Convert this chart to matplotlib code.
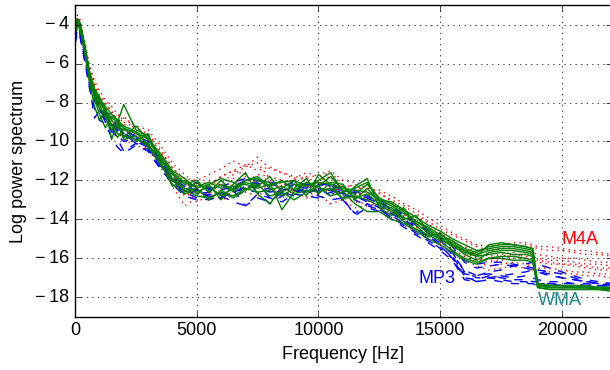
import numpy as np
import matplotlib
matplotlib.use("Agg")
import matplotlib.pyplot as plt
from matplotlib.ticker import FuncFormatter

# -----------------------------
# data
# -----------------------------
freq = [0, 100, 200, 400, 600, 800, 1000,
        1250, 1500, 1750, 2000, 2500, 3000,
        3500, 4000, 4500, 5000, 5500, 6000,
        6500, 7000, 7500, 8000, 8500, 9000,
        9500, 10000, 10500, 11000, 11500, 12000,
        12500, 13000, 13500, 14000, 14500, 15000,
        15500, 16000, 16500, 17000, 17500, 18000, 18500, 18800,
        19000, 19500, 20000, 20500, 21000, 21500, 22050]

# M4A (red dotted)
m4a_1 = [-4.2, -3.7, -3.8, -5.0, -6.2, -7.0, -7.6,
         -8.0, -8.5, -8.9, -9.0, -9.3, -9.6,
         -10.4, -11.4, -11.9, -12.0, -11.7, -11.4,
         -11.0, -11.3, -10.8, -11.4, -11.6, -11.9,
         -11.6, -11.8, -11.6, -12.2, -12.4, -12.3,
         -12.7, -13.0, -13.3, -13.7, -14.1, -14.5,
         -14.8, -15.1, -15.4, -15.6, -15.5, -15.4, -15.3, -15.4,
         -15.5, -15.6, -15.6, -15.7, -15.8, -15.8, -15.9]
m4a_2 = [-4.5, -3.9, -4.1, -5.3, -6.7, -7.5, -8.1,
         -8.6, -9.0, -9.4, -9.6, -9.9, -10.3,
         -11.1, -12.0, -12.8, -12.6, -13.0, -12.8,
         -12.6, -12.4, -12.1, -12.5, -12.4, -12.7,
         -12.8, -12.5, -12.4, -12.9, -13.1, -13.2,
         -13.3, -13.7, -14.1, -14.4, -14.8, -15.2,
         -15.5, -15.9, -16.2, -16.4, -16.3, -16.2, -16.3, -16.4,
         -16.5, -16.5, -16.6, -16.7, -16.7, -16.8, -16.8]
m4a_3 = [-4.3, -3.6, -3.8, -5.1, -6.5, -7.2, -7.8,
         -8.3, -8.7, -8.6, -9.1, -9.6, -9.7,
         -10.5, -11.3, -12.2, -12.5, -12.7, -12.1,
         -11.7, -11.3, -11.1, -11.9, -12.3, -11.9,
         -12.4, -12.0, -11.8, -12.4, -12.2, -12.7,
         -12.6, -13.1, -13.6, -13.8, -14.2, -14.7,
         -15.1, -15.5, -15.8, -16.0, -15.9, -15.8, -15.9, -16.0,
         -16.1, -16.2, -16.3, -16.3, -16.4, -16.5, -16.5]
m4a_4 = [-4.4, -3.8, -4.0, -5.2, -6.6, -7.4, -7.9,
         -8.7, -9.1, -9.3, -9.6, -9.9, -10.1,
         -11.0, -11.9, -12.5, -13.1, -12.8, -12.5,
         -12.2, -11.8, -12.3, -12.0, -12.6, -12.3,
         -12.1, -12.6, -12.3, -12.7, -12.6, -13.0,
         -13.4, -13.5, -13.8, -14.2, -14.7, -15.0,
         -15.3, -15.7, -16.0, -16.2, -16.1, -16.0, -16.0, -16.1,
         -16.2, -16.3, -16.3, -16.4, -16.5, -16.6, -16.6]
m4a_5 = [-4.1, -3.5, -3.7, -4.9, -6.1, -6.9, -7.4,
         -7.9, -8.2, -8.6, -8.8, -9.2, -9.4,
         -10.2, -11.1, -11.7, -12.2, -12.3, -11.8,
         -11.5, -11.2, -11.5, -11.3, -11.6, -11.8,
         -11.9, -11.7, -11.5, -12.0, -12.1, -12.4,
         -12.5, -12.8, -13.2, -13.5, -13.9, -14.3,
         -14.7, -15.0, -15.3, -15.4, -15.3, -15.2, -15.2, -15.3,
         -15.4, -15.4, -15.5, -15.6, -15.6, -15.7, -15.8]
m4a_6 = [-4.6, -4.0, -4.2, -5.5, -6.9, -7.7, -8.3,
         -8.8, -9.3, -9.5, -9.9, -10.2, -10.4,
         -11.3, -12.3, -13.3, -12.9, -12.6, -13.0,
         -12.8, -12.6, -12.8, -12.4, -12.9, -12.5,
         -12.9, -12.7, -13.2, -13.0, -13.4, -13.3,
         -13.6, -13.9, -14.3, -14.6, -15.0, -15.3,
         -15.7, -16.1, -16.4, -16.6, -16.5, -16.4, -16.5, -16.6,
         -16.6, -16.7, -16.8, -16.8, -16.9, -16.9, -17.0]
m4a_7 = [-4.2, -3.7, -3.9, -5.0, -6.4, -7.1, -7.7,
         -8.1, -8.4, -9.0, -8.7, -9.4, -9.8,
         -10.7, -11.6, -12.0, -12.4, -12.0, -12.3,
         -11.9, -12.1, -11.7, -11.8, -12.0, -12.1,
         -11.8, -12.2, -12.1, -12.5, -12.8, -12.5,
         -13.0, -13.3, -13.5, -14.0, -14.4, -14.8,
         -15.2, -15.4, -15.7, -15.9, -15.8, -15.7, -15.6, -15.7,
         -15.8, -15.9, -16.0, -16.0, -16.1, -16.2, -16.2]
m4a_8 = [-4.4, -3.8, -4.0, -5.3, -6.8, -7.5, -8.0,
         -8.4, -8.8, -9.1, -9.4, -9.7, -10.0,
         -10.8, -11.8, -12.6, -12.4, -12.2, -11.8,
         -11.5, -11.7, -12.2, -12.3, -12.1, -12.5,
         -12.3, -12.4, -12.6, -12.3, -12.9, -12.8,
         -13.2, -13.6, -14.0, -14.3, -14.5, -15.1,
         -15.4, -15.6, -15.9, -16.1, -16.0, -15.9, -15.8, -15.9,
         -16.0, -16.1, -16.1, -16.2, -16.3, -16.3, -16.4]

# MP3 (blue dashed)
mp3_1 = [-4.8, -4.2, -4.4, -5.6, -7.0, -7.7, -8.2,
         -8.6, -8.9, -9.4, -9.6, -9.9, -10.2,
         -11.2, -12.0, -12.4, -12.6, -12.8, -12.9,
         -12.6, -12.4, -12.3, -12.6, -12.5, -12.4,
         -12.6, -12.5, -12.4, -12.7, -12.9, -13.0,
         -13.3, -13.6, -14.0, -14.4, -14.9, -15.3,
         -16.0, -17.0, -17.1, -16.9, -17.0, -17.1, -17.1, -17.2,
         -17.2, -17.3, -17.3, -17.3, -17.4, -17.4, -17.4]
mp3_2 = [-4.5, -4.0, -4.3, -5.5, -6.8, -7.5, -8.0,
         -8.4, -8.8, -9.0, -9.3, -9.8, -10.1,
         -11.0, -11.8, -12.3, -12.5, -12.4, -12.3,
         -12.1, -11.9, -12.0, -12.2, -12.3, -12.1,
         -12.2, -12.3, -12.1, -12.5, -12.7, -12.8,
         -13.0, -13.3, -13.8, -14.1, -14.5, -14.9,
         -15.4, -16.2, -16.5, -16.4, -16.3, -16.4, -16.5, -16.6,
         -16.7, -16.9, -17.0, -17.1, -17.2, -17.3, -17.3]
mp3_3 = [-5.0, -4.4, -4.6, -5.9, -7.3, -8.3, -8.9,
         -9.1, -9.8, -10.3, -10.6, -10.2, -10.5,
         -11.4, -12.1, -12.6, -12.9, -13.0, -12.8,
         -13.1, -13.3, -12.7, -12.9, -13.1, -12.7,
         -12.8, -12.9, -12.6, -13.0, -13.7, -13.2,
         -13.5, -13.8, -14.2, -14.6, -15.0, -15.5,
         -16.0, -16.9, -17.2, -17.0, -17.1, -17.2, -17.2, -17.3,
         -17.3, -17.3, -17.4, -17.4, -17.4, -17.5, -17.5]
mp3_4 = [-4.6, -4.1, -4.2, -5.4, -6.9, -7.9, -8.3,
         -8.7, -9.1, -9.5, -9.7, -10.0, -10.3,
         -11.1, -11.9, -12.5, -12.7, -12.6, -12.7,
         -12.4, -12.2, -12.5, -12.4, -12.7, -12.6,
         -12.4, -12.6, -12.5, -12.8, -12.8, -13.1,
         -13.4, -13.7, -14.1, -14.5, -14.9, -15.2,
         -15.8, -16.6, -16.9, -16.8, -16.9, -17.0, -16.9, -17.0,
         -17.1, -17.2, -17.2, -17.3, -17.3, -17.4, -17.4]
mp3_5 = [-4.7, -4.1, -4.3, -5.5, -6.9, -7.6, -8.1,
         -8.5, -8.8, -9.2, -9.5, -9.7, -10.0,
         -10.9, -11.7, -12.2, -12.3, -12.4, -12.5,
         -12.3, -12.0, -12.2, -12.1, -12.2, -12.3,
         -12.4, -12.2, -12.2, -12.6, -12.6, -12.9,
         -13.1, -13.4, -13.8, -14.2, -14.6, -15.0,
         -15.6, -16.1, -16.3, -16.2, -16.2, -16.3, -16.4, -16.5,
         -16.7, -16.8, -17.0, -17.1, -17.2, -17.3, -17.3]
mp3_6 = [-4.9, -4.3, -4.5, -5.8, -7.2, -8.8, -8.4,
         -9.0, -9.3, -9.9, -10.5, -10.1, -10.4,
         -11.3, -12.2, -12.8, -13.0, -12.7, -12.9,
         -12.5, -13.3, -12.9, -13.1, -12.6, -12.8,
         -12.5, -12.8, -13.0, -12.9, -13.8, -13.4,
         -13.6, -14.0, -14.4, -14.8, -15.2, -15.6,
         -16.1, -17.1, -17.2, -17.1, -17.2, -17.3, -17.3, -17.3,
         -17.4, -17.4, -17.4, -17.5, -17.5, -17.5, -17.5]
mp3_7 = [-4.6, -4.0, -4.3, -5.4, -6.8, -7.6, -8.4,
         -8.8, -9.2, -9.0, -9.6, -10.1, -10.2,
         -11.0, -11.9, -12.3, -12.1, -12.5, -12.2,
         -12.6, -12.3, -12.1, -12.9, -12.4, -12.2,
         -12.3, -12.1, -12.3, -12.7, -12.5, -12.9,
         -13.2, -13.5, -13.9, -14.3, -14.7, -15.1,
         -15.7, -16.7, -17.0, -17.0, -16.9, -16.8, -16.7, -16.6,
         -16.6, -16.7, -16.8, -17.0, -17.2, -17.3, -17.4]
mp3_8 = [-4.8, -4.2, -4.4, -5.7, -7.1, -7.8, -8.3,
         -8.9, -9.5, -9.7, -10.0, -9.8, -10.3,
         -11.2, -12.0, -12.7, -12.5, -12.9, -12.6,
         -12.9, -12.5, -12.6, -13.2, -12.8, -12.5,
         -12.7, -12.4, -12.8, -12.6, -13.0, -13.3,
         -13.5, -13.9, -14.3, -14.7, -15.1, -15.4,
         -15.9, -16.8, -16.9, -16.7, -16.6, -16.4, -16.3, -16.2,
         -16.3, -16.5, -16.7, -16.9, -17.1, -17.2, -17.3]

# WMA (green solid)
wma_1 = [-4.3, -3.8, -4.0, -5.2, -6.6, -7.5, -8.0,
         -8.3, -9.9, -9.0, -8.1, -9.4, -9.7,
         -10.9, -11.7, -12.2, -12.0, -12.6, -12.2,
         -12.5, -12.1, -12.3, -11.8, -12.6, -12.2,
         -12.3, -12.0, -11.6, -12.6, -12.4, -12.1,
         -13.0, -13.1, -13.5, -13.9, -14.3, -14.6,
         -15.0, -15.3, -15.6, -15.5, -15.4, -15.4, -15.5, -15.6,
         -17.3, -17.4, -17.4, -17.4, -17.4, -17.5, -17.5]
wma_2 = [-4.4, -3.9, -4.1, -5.3, -6.8, -7.4, -7.9,
         -8.5, -8.9, -9.3, -9.4, -9.5, -10.2,
         -10.8, -11.9, -12.4, -12.6, -12.3, -12.8,
         -12.4, -12.0, -11.8, -12.3, -12.0, -12.5,
         -12.1, -12.4, -12.5, -12.3, -12.9, -12.7,
         -13.2, -13.4, -13.9, -14.2, -14.7, -15.0,
         -15.4, -15.7, -15.9, -15.8, -15.7, -15.8, -15.8, -15.9,
         -17.4, -17.5, -17.5, -17.5, -17.5, -17.5, -17.6]
wma_3 = [-4.2, -3.7, -3.9, -5.0, -6.4, -7.3, -7.8,
         -8.2, -8.6, -8.9, -9.2, -9.5, -9.9,
         -10.6, -11.5, -11.9, -12.4, -12.2, -11.9,
         -12.1, -12.5, -12.0, -12.1, -13.5, -12.6,
         -12.1, -12.3, -11.8, -12.5, -12.7, -12.2,
         -12.9, -13.2, -13.6, -14.1, -14.5, -14.9,
         -15.2, -15.6, -15.8, -15.6, -15.5, -15.5, -15.6, -15.7,
         -17.3, -17.4, -17.4, -17.4, -17.5, -17.5, -17.5]
wma_4 = [-4.5, -4.0, -4.2, -5.4, -6.9, -7.7, -8.3,
         -8.7, -9.1, -9.6, -9.7, -9.9, -10.1,
         -11.2, -12.0, -12.5, -12.8, -12.9, -12.6,
         -12.8, -12.4, -12.6, -12.5, -12.3, -12.7,
         -12.5, -12.6, -12.4, -12.9, -12.8, -13.0,
         -13.3, -13.6, -14.1, -14.5, -14.8, -15.1,
         -15.6, -16.0, -16.2, -16.0, -15.9, -15.9, -16.0, -16.1,
         -17.5, -17.6, -17.6, -17.6, -17.6, -17.6, -17.6]
wma_5 = [-4.3, -3.8, -4.0, -5.1, -6.5, -7.3, -7.7,
         -8.4, -8.8, -9.0, -9.3, -9.6, -9.8,
         -10.7, -11.6, -12.1, -12.3, -12.1, -12.4,
         -12.3, -12.2, -12.4, -12.2, -12.1, -12.0,
         -12.3, -12.1, -12.2, -12.4, -12.5, -12.6,
         -13.0, -13.3, -13.7, -14.1, -14.4, -14.8,
         -15.1, -15.5, -15.7, -15.4, -15.3, -15.3, -15.4, -15.5,
         -17.4, -17.5, -17.5, -17.5, -17.5, -17.6, -17.6]
wma_6 = [-4.4, -3.9, -4.1, -5.4, -7.0, -8.2, -8.9,
         -8.4, -9.2, -9.8, -9.3, -10.0, -9.6,
         -11.0, -12.3, -12.0, -12.7, -12.2, -13.0,
         -12.2, -11.6, -12.7, -13.2, -12.4, -12.0,
         -12.8, -11.7, -12.2, -13.0, -12.3, -11.9,
         -13.4, -13.8, -13.4, -14.3, -14.9, -14.7,
         -15.3, -15.8, -16.1, -15.7, -15.6, -15.6, -15.7, -15.8,
         -17.4, -17.5, -17.5, -17.5, -17.5, -17.5, -17.5]
wma_7 = [-4.2, -3.7, -3.9, -5.1, -6.6, -7.8, -8.6,
         -9.3, -8.7, -8.9, -9.8, -9.2, -9.9,
         -10.9, -11.6, -12.6, -12.1, -12.6, -12.0,
         -12.6, -12.0, -11.9, -12.4, -12.8, -12.4,
         -11.9, -12.7, -12.1, -12.2, -13.0, -12.4,
         -13.1, -13.5, -14.0, -13.8, -14.6, -15.0,
         -15.3, -15.6, -15.9, -15.3, -15.2, -15.3, -15.4, -15.5,
         -17.3, -17.4, -17.4, -17.5, -17.5, -17.5, -17.5]
wma_8 = [-4.5, -4.0, -4.2, -5.3, -6.8, -7.6, -8.1,
         -8.8, -9.4, -9.1, -9.9, -9.7, -10.3,
         -11.1, -12.2, -12.7, -12.4, -13.0, -12.5,
         -12.9, -12.5, -12.2, -12.8, -12.6, -13.0,
         -12.6, -12.3, -12.8, -12.6, -13.2, -13.6,
         -13.6, -14.0, -14.2, -14.6, -15.0, -15.3,
         -15.7, -16.1, -16.3, -16.0, -16.0, -16.1, -16.1, -16.2,
         -17.5, -17.6, -17.6, -17.6, -17.6, -17.6, -17.7]

m4a_curves = [m4a_1, m4a_2, m4a_3, m4a_4, m4a_5, m4a_6, m4a_7, m4a_8]
mp3_curves = [mp3_1, mp3_2, mp3_3, mp3_4, mp3_5, mp3_6, mp3_7, mp3_8]
wma_curves = [wma_1, wma_2, wma_3, wma_4, wma_5, wma_6, wma_7, wma_8]

xticks = [0, 5000, 10000, 15000, 20000]
yticks = [-18, -16, -14, -12, -10, -8, -6, -4]

# -----------------------------
# plot
# -----------------------------
plt.style.use("classic")
plt.rcParams["font.family"] = ["Liberation Sans", "DejaVu Sans"]
plt.rcParams["font.size"] = 13

fig = plt.figure(figsize=(6.1, 3.7), dpi=100, facecolor="w")
ax = fig.add_axes([0.123, 0.144, 0.880, 0.842])

for y in m4a_curves:
    ax.plot(freq, y, color="r", linestyle=":", linewidth=1)
for y in mp3_curves:
    ax.plot(freq, y, color="b", linestyle="--", linewidth=1)
for y in wma_curves:
    ax.plot(freq, y, color="g", linestyle="-", linewidth=1)

ax.text(20760, -15.05, "M4A", color="r", ha="center", va="center", fontsize=13)
ax.text(14870, -17.04, "MP3", color="b", ha="center", va="center", fontsize=13)
ax.text(19900, -18.19, "WMA", color="#178a8a", ha="center", va="center", fontsize=13)

ax.set_xlim(0, 22050)
ax.set_ylim(-19, -3)
ax.set_xticks(xticks)
ax.set_yticks(yticks)
ax.yaxis.set_major_formatter(FuncFormatter(
    lambda v, pos: "\u2212\u2009%d" % abs(v) if v < 0 else "%d" % v))
ax.tick_params(axis="y", pad=4)
ax.grid(True)
ax.set_xlabel("Frequency [Hz]")
ax.set_ylabel("Log power spectrum", labelpad=6)

fig.savefig("out.png", dpi=100, facecolor="w")
